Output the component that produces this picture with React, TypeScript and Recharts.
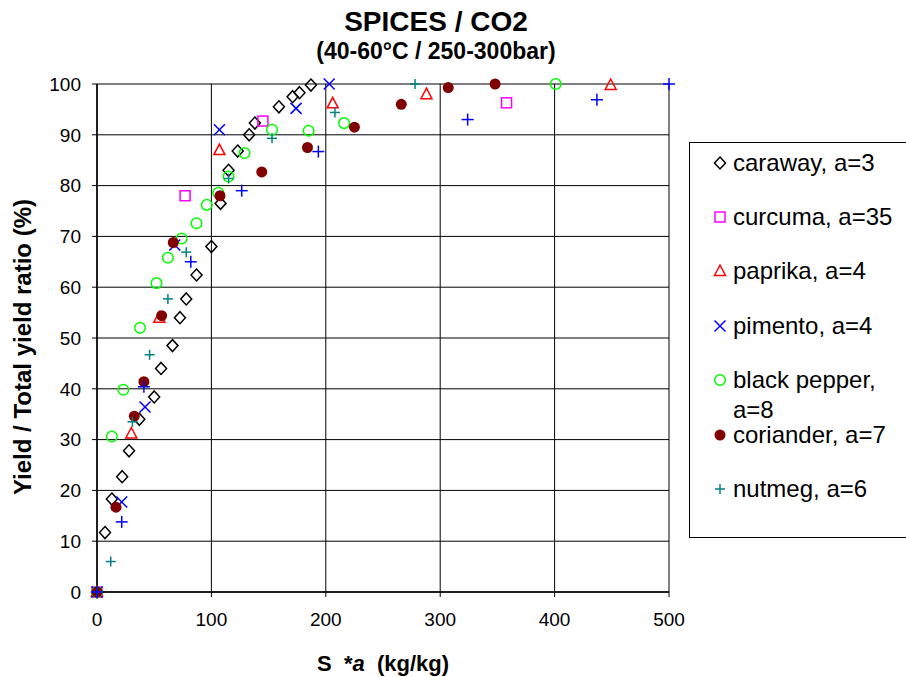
import React from 'react';
import { ScatterChart, Scatter, XAxis, YAxis, CartesianGrid, Legend } from 'recharts';

const FONT = '"Liberation Sans", Arial, Helvetica, sans-serif';

// [S*a, yield %]
const caraway: [number, number][] = [
  [0, 0], [7, 11.7], [13, 18.3], [22, 22.7], [28, 27.8], [37, 34], [50, 38.4], [56, 44],
  [66, 48.5], [72.5, 54], [78, 57.7], [87, 62.4], [100, 68], [108, 76.5], [115, 83],
  [123, 86.8], [133, 90], [138, 92.3], [159, 95.5], [171, 97.5], [177, 98.3], [187, 99.8],
];
const curcuma: [number, number][] = [[0, 0], [77, 78], [145, 92.7], [358, 96.3]];
const paprika: [number, number][] = [
  [0, 0], [30, 31.2], [54.5, 54], [107, 87], [206, 96.2], [288, 98], [449, 99.8],
];
const pimento: [number, number][] = [
  [0, 0], [21.6, 17.7], [42, 36.4], [68, 68.3], [107, 91], [174, 95.2], [203, 100],
];
const blackPepper: [number, number][] = [
  [0, 0], [13, 30.6], [23, 39.8], [37.6, 52], [52, 60.8], [62, 65.8], [74, 69.6], [87, 72.6],
  [96, 76.2], [106, 78.6], [115, 81.8], [129, 86.4], [153, 91], [185, 90.8], [216, 92.3], [401, 100],
];
const coriander: [number, number][] = [
  [0, 0], [16.6, 16.7], [32.6, 34.6], [41, 41.4], [56.5, 54.4], [66.7, 68.8], [107.5, 78],
  [144, 82.7], [184, 87.5], [225, 91.5], [266, 96], [307, 99.3], [348, 100],
];
const nutmeg: [number, number][] = [
  [0, 0], [12, 6], [31, 33.5], [46, 46.7], [62, 57.7], [78, 66.9], [115, 81.4], [153, 89.3],
  [208, 94.4], [278, 100],
];
// blue crosses that have no legend entry
const unlabeled: [number, number][] = [
  [0, 0], [21.6, 13.8], [41, 40.4], [82, 65], [126.5, 79], [193.5, 86.7], [324, 93], [437, 96.9], [500, 100],
];

const xTicks = [0, 100, 200, 300, 400, 500];
const yTicks = [0, 10, 20, 30, 40, 50, 60, 70, 80, 90, 100];

type Kind = 'diamond' | 'square' | 'triangle' | 'x' | 'circle' | 'dot' | 'plus' | 'bigplus';

const series: { name: string; data: [number, number][]; kind: Kind; color: string; inLegend: boolean }[] = [
  { name: 'caraway, a=3', data: caraway, kind: 'diamond', color: '#000000', inLegend: true },
  { name: 'curcuma, a=35', data: curcuma, kind: 'square', color: '#ff00ff', inLegend: true },
  { name: 'paprika, a=4', data: paprika, kind: 'triangle', color: '#ff0000', inLegend: true },
  { name: 'pimento, a=4', data: pimento, kind: 'x', color: '#0000ff', inLegend: true },
  { name: 'black pepper, a=8', data: blackPepper, kind: 'circle', color: '#00ff00', inLegend: true },
  { name: 'coriander, a=7', data: coriander, kind: 'dot', color: '#800000', inLegend: true },
  { name: 'nutmeg, a=6', data: nutmeg, kind: 'plus', color: '#008080', inLegend: true },
  { name: 'unlabeled', data: unlabeled, kind: 'bigplus', color: '#0000ff', inLegend: false },
];

const Marker = ({ kind, color, cx, cy }: { kind: Kind; color: string; cx: number; cy: number }) => {
  const sw = 1.5;
  switch (kind) {
    case 'diamond':
      return <polygon points={`${cx},${cy - 6} ${cx + 5.5},${cy} ${cx},${cy + 6} ${cx - 5.5},${cy}`} fill="none" stroke={color} strokeWidth={sw} />;
    case 'square':
      return <rect x={cx - 5} y={cy - 5} width={10} height={10} fill="none" stroke={color} strokeWidth={sw} />;
    case 'triangle':
      return <polygon points={`${cx},${cy - 6} ${cx + 5.5},${cy + 4.5} ${cx - 5.5},${cy + 4.5}`} fill="none" stroke={color} strokeWidth={sw} />;
    case 'x':
      return (
        <g stroke={color} strokeWidth={sw}>
          <line x1={cx - 5.5} y1={cy - 5.5} x2={cx + 5.5} y2={cy + 5.5} />
          <line x1={cx - 5.5} y1={cy + 5.5} x2={cx + 5.5} y2={cy - 5.5} />
        </g>
      );
    case 'circle':
      return <circle cx={cx} cy={cy} r={5.3} fill="none" stroke={color} strokeWidth={sw} />;
    case 'dot':
      return <circle cx={cx} cy={cy} r={5.5} fill={color} />;
    case 'plus':
    case 'bigplus': {
      const h = kind === 'plus' ? 5 : 6;
      return (
        <g stroke={color} strokeWidth={sw}>
          <line x1={cx - h} y1={cy} x2={cx + h} y2={cy} />
          <line x1={cx} y1={cy - h} x2={cx} y2={cy + h} />
        </g>
      );
    }
  }
  return null;
};

const LegendBox = () => (
  <div
    style={{
      position: 'fixed', left: 689, top: 142, width: 240, height: 394,
      border: '1px solid #000', background: '#fff', fontFamily: FONT, fontSize: 24, color: '#000',
    }}
  >
    {series.filter((s) => s.inLegend).map((s, i) => {
      const cy = 19.5 + i * 54.4;
      return (
        <div key={s.name} style={{ position: 'absolute', left: 0, top: cy - 15, width: 210 }}>
          <svg width={20} height={20} style={{ position: 'absolute', left: 20, top: 5 }}>
            <Marker kind={s.kind} color={s.color} cx={10} cy={10} />
          </svg>
          <div style={{ marginLeft: 43, width: 160, lineHeight: '30px', whiteSpace: 'normal' }}>{s.name}</div>
        </div>
      );
    })}
  </div>
);

export default function App() {
  return (
    <div style={{ position: 'fixed', left: 0, top: 0, width: 906, height: 677, background: '#fff', overflow: 'hidden' }}>
      <ScatterChart width={906} height={677} margin={{ top: 84, right: 237, bottom: 0, left: 0 }}>
        <CartesianGrid stroke="#000" strokeWidth={1} />
        <XAxis
          type="number"
          dataKey="x"
          domain={[0, 500]}
          ticks={xTicks}
          height={85}
          tickSize={5}
          tickMargin={16}
          axisLine={{ stroke: '#000', strokeWidth: 1.5 }}
          tickLine={{ stroke: '#000', strokeWidth: 1 }}
          tick={{ fill: '#000', fontSize: 19, fontFamily: FONT }}
          interval={0}
        />
        <YAxis
          type="number"
          dataKey="y"
          domain={[0, 100]}
          ticks={yTicks}
          width={97}
          tickSize={5}
          tickMargin={11}
          axisLine={{ stroke: '#000', strokeWidth: 1.5 }}
          tickLine={{ stroke: '#000', strokeWidth: 1 }}
          tick={{ fill: '#000', fontSize: 19, fontFamily: FONT }}
          interval={0}
        />
        {series.map((s) => (
          <Scatter
            key={s.name}
            name={s.name}
            data={s.data.map(([x, y]) => ({ x, y }))}
            fill={s.color}
            isAnimationActive={false}
            legendType={s.inLegend ? 'circle' : 'none'}
            shape={(p: any) => <Marker kind={s.kind} color={s.color} cx={p.cx} cy={p.cy} />}
          />
        ))}
        <Legend content={() => <LegendBox />} />
      </ScatterChart>
      <svg width={906} height={677} style={{ position: 'absolute', left: 0, top: 0, pointerEvents: 'none' }}>
        <g fontFamily={FONT} fontWeight="bold" fill="#000">
          <text x={436} y={31} fontSize={28} textAnchor="middle">SPICES / CO2</text>
          <text x={436} y={59} fontSize={23} textAnchor="middle">(40-60°C / 250-300bar)</text>
          <text x={317} y={671} fontSize={22} style={{ whiteSpace: 'pre' }}>
            {'S  *'}
            <tspan fontStyle="italic">{'a'}</tspan>
            {'  (kg/kg)'}
          </text>
          <text x={31} y={347} fontSize={24} textAnchor="middle" transform="rotate(-90, 31, 347)">
            Yield / Total yield ratio (%)
          </text>
        </g>
      </svg>
    </div>
  );
}
